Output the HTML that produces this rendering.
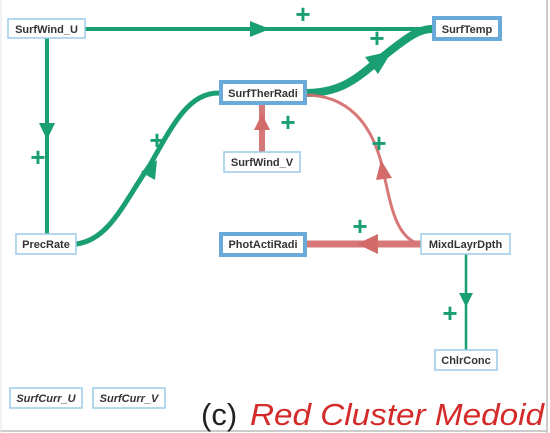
<!DOCTYPE html>
<html><head><style>
html,body{margin:0;padding:0;background:#fff;}
svg{display:block;font-family:"Liberation Sans",Arial,sans-serif;}
.n{font-size:11px;font-weight:bold;fill:#333;}
.p{font-size:26px;font-weight:bold;fill:#1a9e74;}
</style></head><body>
<svg width="550" height="433" viewBox="0 0 550 433">
<rect x="0" y="0" width="550" height="433" fill="#fff"/>
<line x1="547" y1="0" x2="547" y2="433" stroke="#ccc" stroke-width="2"/>
<line x1="0" y1="431" x2="547" y2="431" stroke="#ccc" stroke-width="2"/>
<line x1="1" y1="0" x2="1" y2="433" stroke="#e4e4e4" stroke-width="1"/>
<g stroke="#1a9e74" fill="none">
<line x1="85" y1="29" x2="432" y2="29" stroke-width="4"/>
<line x1="47" y1="38" x2="47" y2="234" stroke-width="4"/>
<path d="M76,244 C110,240 125,200 150,165 C175,120 190,93 219,93" stroke-width="5"/>
<path d="M305,93 C345,93 360,75 385,55 C410,35 420,29 432,29" stroke-width="8"/>
<line x1="466" y1="254" x2="466" y2="350" stroke-width="2.5"/>
</g>
<g fill="#1a9e74">
<polygon points="270,29 250,21 250,37"/>
<polygon points="47,140 39,123 55,123"/>
<polygon points="157,160 155,180 141,172"/>
<polygon points="392,51 378,74 365,57"/>
<polygon points="466,307 459,293 473,293"/>
</g>
<g stroke="#d26a6a" fill="none" opacity="0.9">
<line x1="262" y1="152" x2="262" y2="104" stroke-width="6"/>
<path d="M421,244 C395,240 390,200 383,170 C372,120 345,95 305,95" stroke-width="3"/>
<line x1="421" y1="244" x2="305" y2="244" stroke-width="7"/>
</g>
<g fill="#d26a6a">
<polygon points="262,114 254,130 270,130"/>
<polygon points="381,160 392,178 376,180"/>
<polygon points="357,244 378,234 378,254"/>
</g>
<text class="p" x="303" y="23" text-anchor="middle">+</text>
<text class="p" x="377" y="47" text-anchor="middle">+</text>
<text class="p" x="38" y="166" text-anchor="middle">+</text>
<text class="p" x="157" y="149" text-anchor="middle">+</text>
<text class="p" x="288" y="131" text-anchor="middle">+</text>
<text class="p" x="379" y="152" text-anchor="middle">+</text>
<text class="p" x="360" y="235" text-anchor="middle">+</text>
<text class="p" x="450" y="322" text-anchor="middle">+</text>
<g fill="#fff" stroke="#9ccbe8" stroke-width="1.5">
<rect x="8" y="19" width="77" height="19"/>
<rect x="224" y="152" width="76" height="20"/>
<rect x="16" y="234" width="60" height="20"/>
<rect x="421" y="234" width="89" height="20"/>
<rect x="435" y="350" width="62" height="20"/>
<rect x="10" y="388" width="72" height="20"/>
<rect x="93" y="388" width="72" height="20"/>
</g>
<g fill="#fff" stroke="#6aaad8" stroke-width="4">
<rect x="434" y="18" width="66" height="21"/>
<rect x="221" y="82" width="84" height="21"/>
<rect x="221" y="234" width="84" height="21"/>
</g>
<text class="n" x="46.5" y="33" text-anchor="middle">SurfWind_U</text>
<text class="n" x="467" y="33" text-anchor="middle">SurfTemp</text>
<text class="n" x="263" y="97" text-anchor="middle">SurfTherRadi</text>
<text class="n" x="262" y="166" text-anchor="middle">SurfWind_V</text>
<text class="n" x="46" y="248" text-anchor="middle">PrecRate</text>
<text class="n" x="263" y="248" text-anchor="middle">PhotActiRadi</text>
<text class="n" x="465.5" y="248" text-anchor="middle">MixdLayrDpth</text>
<text class="n" x="466" y="364" text-anchor="middle">ChlrConc</text>
<text class="n" x="46" y="402" text-anchor="middle" font-style="italic" fill="#555">SurfCurr_U</text>
<text class="n" x="129" y="402" text-anchor="middle" font-style="italic" fill="#555">SurfCurr_V</text>
<text x="201" y="425" font-size="31" fill="#222">(c)</text>
<text x="250" y="425" font-size="31" fill="#d42a2a" font-style="italic" textLength="294" lengthAdjust="spacingAndGlyphs">Red Cluster Medoid</text>
</svg>
</body></html>
